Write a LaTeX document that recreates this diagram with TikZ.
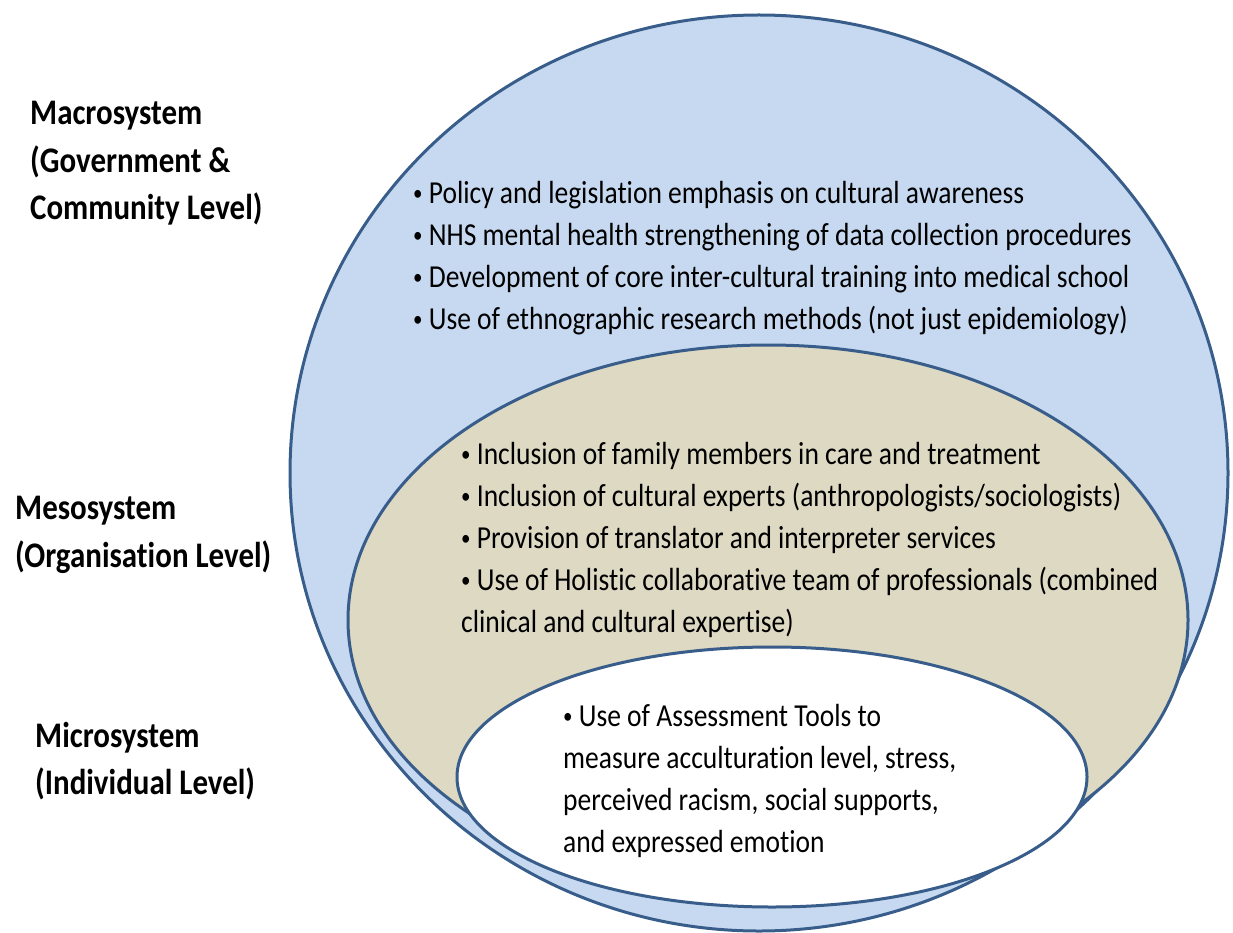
\documentclass[tikz,border=0pt]{standalone}
\usepackage{fontspec}
\setmainfont{Carlito}[FakeStretch=0.86, Ligatures=NoCommon]

\definecolor{macrofill}{HTML}{C6D9F1}
\definecolor{mesofill}{HTML}{DDD9C3}
\definecolor{ringline}{HTML}{385D8A}

\newcommand{\itembullet}{{\fontsize{22}{22}\selectfont\raisebox{3pt}{\textbullet}}\ }

\tikzset{
  ring/.style={draw=ringline, line width=3},
  levellabel/.style={anchor=north west, inner sep=0, align=left,
    font=\fontsize{36}{47.5}\selectfont\bfseries},
  itemlist/.style={anchor=north west, inner sep=0, align=left,
    font=\fontsize{32}{42}\selectfont},
}

\begin{document}
\begin{tikzpicture}[x=1pt,y=-1pt]
  \useasboundingbox (0,0) rectangle (1233,933);
  % Draw the three levels
  \draw[ring, fill=macrofill] (759,473) ellipse [x radius=469, y radius=458];
  \draw[ring, fill=mesofill] (768,620) ellipse [x radius=420, y radius=275];
  \draw[ring, fill=white] (772,777) ellipse [x radius=315, y radius=130];
  % Level names
  \node[levellabel] (macro) at (30,101) {Macrosystem\\(Government \&\\Community Level)};
  \node[levellabel] (meso) at (15,496) {Mesosystem\\(Organisation Level)};
  \node[levellabel] (micro) at (35,722) {Microsystem\\(Individual Level)};
  % Actions at each level
  \node[itemlist] (macrolist) at (413,181) {%
    \itembullet Policy and legislation emphasis on cultural awareness\\
    \itembullet NHS mental health strengthening of data collection procedures\\
    \itembullet Development of core inter-cultural training into medical school\\
    \itembullet Use of ethnographic research methods (not just epidemiology)};
  \node[itemlist] (mesolist) at (461,442) {%
    \itembullet Inclusion of family members in care and treatment\\
    \itembullet Inclusion of cultural experts (anthropologists/sociologists)\\
    \itembullet Provision of translator and interpreter services\\
    \itembullet Use of Holistic collaborative team of professionals (combined\\
    clinical and cultural expertise)};
  \node[itemlist] (microlist) at (563,704) {%
    \itembullet Use of Assessment Tools to\\
    measure acculturation level, stress,\\
    perceived racism, social supports,\\
    and expressed emotion};
\end{tikzpicture}
\end{document}
